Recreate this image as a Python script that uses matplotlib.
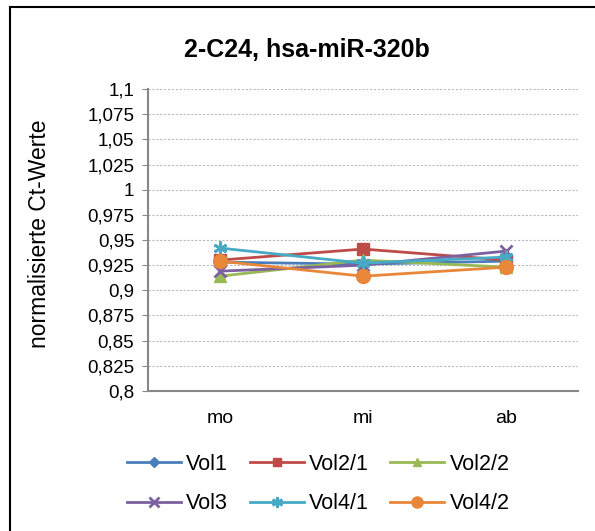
import matplotlib
matplotlib.use('Agg')
import matplotlib.pyplot as plt
from matplotlib.lines import Line2D
from matplotlib.ticker import FuncFormatter

plt.rcParams['font.family'] = ['Liberation Sans', 'DejaVu Sans']

# data
categories = ['mo', 'mi', 'ab']
vol1 = [0.928, 0.926, 0.929]
vol2_1 = [0.930, 0.941, 0.930]
vol2_2 = [0.914, 0.930, 0.923]
vol3 = [0.919, 0.925, 0.939]
vol4_1 = [0.942, 0.927, 0.933]
vol4_2 = [0.929, 0.914, 0.923]

series = [
    ('Vol1', vol1, '#4A7EBB', 'D', 6),
    ('Vol2/1', vol2_1, '#BE4B48', 's', 8),
    ('Vol2/2', vol2_2, '#98B954', '^', 8),
    ('Vol3', vol3, '#7D60A0', 'x', 9),
    ('Vol4/1', vol4_1, '#46AAC5', (6, 2, 0), 10),
    ('Vol4/2', vol4_2, '#E8873A', 'o', 10),
]

fig = plt.figure(figsize=(5.95, 5.31), dpi=100)
ax = fig.add_axes([0.249, 0.264, 0.722, 0.568])

x = list(range(len(categories)))
handles = []
for name, vals, col, mk, ms in series:
    h, = ax.plot(x, vals, color=col, lw=2, marker=mk, markersize=ms,
                 markeredgewidth=2 if mk in ('x', (6, 2, 0)) else 1,
                 markeredgecolor=col, markerfacecolor=col, label=name, zorder=3)
    handles.append(h)

ax.set_xlim(-0.5, 2.5)
ax.set_ylim(0.8, 1.1)
yt = [0.8 + 0.025 * i for i in range(13)]
ax.set_yticks(yt)
ax.yaxis.set_major_formatter(FuncFormatter(
    lambda v, p: ('%.3f' % v).rstrip('0').rstrip('.').replace('.', ',')))
ax.set_xticks(x)
ax.set_xticklabels(categories)
ax.tick_params(axis='x', length=0, pad=14, labelsize=14)
ax.tick_params(axis='y', length=4, direction='out', color='#888888', labelsize=13.5, pad=6)
ax.yaxis.grid(True, color='#BBBBBB', linestyle=(0, (2, 1.5)), linewidth=0.8)
for s in ['top', 'right']:
    ax.spines[s].set_visible(False)
for s in ['left', 'bottom']:
    ax.spines[s].set_color('#888888')
    ax.spines[s].set_linewidth(1.5)

ax.set_ylabel('normalisierte Ct-Werte', fontsize=16.5)
ax.yaxis.set_label_coords(-0.225, 0.52)
fig.text(0.515, 0.905, '2-C24, hsa-miR-320b', ha='center', va='center',
         fontsize=18, fontweight='bold')

# legend filled row by row like the original
order = [0, 3, 1, 4, 2, 5]
fig.legend([handles[i] for i in order], [series[i][0] for i in order],
           loc='center', bbox_to_anchor=(0.535, 0.0885), ncol=3, frameon=False,
           fontsize=15.5, handlelength=2.5, columnspacing=1.0, handletextpad=0.25,
           labelspacing=0.85, markerscale=0.8)

# frame of the screenshot (top and left edge)
fig.add_artist(Line2D([10 / 595, 1], [1 - 7 / 531, 1 - 7 / 531], color='black', lw=1.5))
fig.add_artist(Line2D([10 / 595, 10 / 595], [0, 1 - 7 / 531], color='black', lw=1.5))

fig.savefig('out.png', dpi=100, facecolor='white')
